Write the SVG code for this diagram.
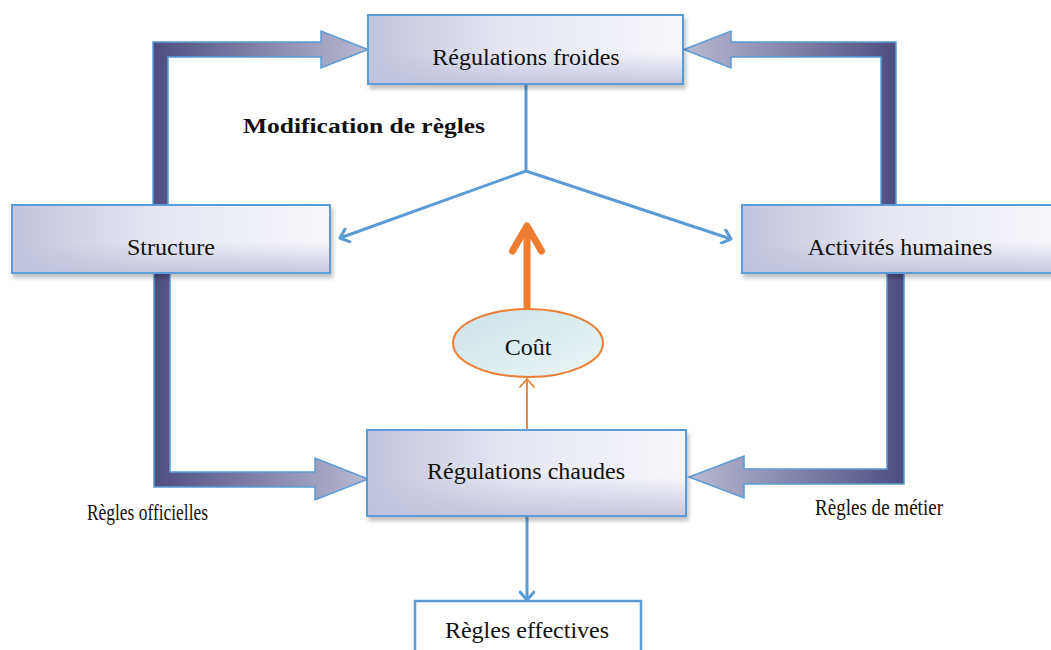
<svg xmlns="http://www.w3.org/2000/svg" width="1051" height="650" viewBox="0 0 1051 650">
<defs>
<style>
.box{stroke:#5b9bd5;stroke-width:2;filter:url(#sh)}
.t{font-size:24px;fill:#111;text-anchor:middle}
.lbl{font-size:23px;fill:#111}
.big{stroke:#5b9bd5;stroke-width:1.5;stroke-linejoin:miter}
.blue{stroke:#5b9bd5;stroke-width:3;fill:none}
.or{stroke:#ed7d31;fill:none}
</style>
<linearGradient id="gb" x1="0" y1="0" x2="1" y2="0">
<stop offset="0" stop-color="#c2c3de"/><stop offset="0.45" stop-color="#e6e7f2"/><stop offset="1" stop-color="#f6f6fa"/>
</linearGradient>
<linearGradient id="gv" x1="0" y1="0" x2="0" y2="1">
<stop offset="0.55" stop-color="#c2c3de" stop-opacity="0"/><stop offset="1" stop-color="#c2c3de" stop-opacity="0.9"/>
</linearGradient>
<linearGradient id="gL" gradientUnits="userSpaceOnUse" x1="153" y1="0" x2="368" y2="0">
<stop offset="0" stop-color="#4d4e80"/><stop offset="1" stop-color="#b9b9d3"/>
</linearGradient>
<linearGradient id="gR" gradientUnits="userSpaceOnUse" x1="896" y1="0" x2="684" y2="0">
<stop offset="0" stop-color="#4d4e80"/><stop offset="1" stop-color="#b9b9d3"/>
</linearGradient>
<linearGradient id="gL2" gradientUnits="userSpaceOnUse" x1="154" y1="0" x2="368" y2="0">
<stop offset="0" stop-color="#4d4e80"/><stop offset="1" stop-color="#b9b9d3"/>
</linearGradient>
<linearGradient id="gR2" gradientUnits="userSpaceOnUse" x1="904" y1="0" x2="689" y2="0">
<stop offset="0" stop-color="#4d4e80"/><stop offset="1" stop-color="#b9b9d3"/>
</linearGradient>
<linearGradient id="ge" x1="0" y1="0" x2="1" y2="1">
<stop offset="0" stop-color="#c9e2e6"/><stop offset="1" stop-color="#eef6f7"/>
</linearGradient>
<filter id="sh" x="-5%" y="-10%" width="115%" height="130%">
<feGaussianBlur in="SourceAlpha" stdDeviation="2"/>
<feOffset dx="2" dy="4" result="b"/>
<feComponentTransfer><feFuncA type="linear" slope="0.25"/></feComponentTransfer>
<feMerge><feMergeNode/><feMergeNode in="SourceGraphic"/></feMerge>
</filter>
<marker id="ab" markerWidth="16" markerHeight="16" refX="10" refY="8" orient="auto" markerUnits="userSpaceOnUse">
<path d="M2,1 L10,8 L2,15" fill="none" stroke="#5b9bd5" stroke-width="3" stroke-linecap="round" stroke-linejoin="round"/>
</marker>
<marker id="ao" markerWidth="16" markerHeight="16" refX="10" refY="8" orient="auto" markerUnits="userSpaceOnUse">
<path d="M2,1 L10,8 L2,15" fill="none" stroke="#ed7d31" stroke-width="1.8" stroke-linecap="round" stroke-linejoin="round"/>
</marker>
<marker id="aO" markerWidth="36" markerHeight="38" refX="30" refY="19" orient="auto" markerUnits="userSpaceOnUse">
<path d="M5,4.5 L30,19 L5,33.5" fill="none" stroke="#ed7d31" stroke-width="7" stroke-linecap="round" stroke-linejoin="round"/>
</marker>
</defs>
<rect width="1051" height="650" fill="#fff"/>

<g id="connectors">
<path class="big" fill="url(#gL)" d="M153,205 L153,42 L321,42 L321,31 L368,49.5 L321,68 L321,57 L168,57 L168,205 Z"/>
<path class="big" fill="url(#gR)" d="M896,205 L896,42 L731,42 L731,31 L684,49.5 L731,68 L731,57 L881,57 L881,205 Z"/>
<path class="big" fill="url(#gL2)" d="M154,273 L154,487 L315,487 L315,500 L368,479 L315,458 L315,472 L170,472 L170,273 Z"/>
<path class="big" fill="url(#gR2)" d="M904,273 L904,484 L744,484 L744,498 L689,477 L744,456 L744,469 L887,469 L887,273 Z"/>
<path class="blue" d="M526,84 L526,171"/>
<path class="blue" d="M526,171 L340,238" marker-end="url(#ab)"/>
<path class="blue" d="M526,171 L731,239" marker-end="url(#ab)"/>
<path class="blue" d="M527,516 L527,600" marker-end="url(#ab)"/>
<path class="or" stroke-width="1.8" d="M527,430 L527,379" marker-end="url(#ao)"/>
<path class="or" stroke-width="7" d="M527,309 L527,226" marker-end="url(#aO)"/>
</g>

<g font-family="Liberation Serif, serif">
<g id="n-froides">
<rect class="box" x="368" y="15" width="315" height="69" fill="url(#gb)"/>
<rect x="369" y="16" width="313" height="67" fill="url(#gv)"/>
<text class="t" x="526" y="65" font-family="Liberation Serif, serif">Régulations froides</text>
</g>
<g id="n-structure">
<rect class="box" x="12" y="205" width="318" height="68" fill="url(#gb)"/>
<rect x="13" y="206" width="316" height="66" fill="url(#gv)"/>
<text class="t" x="171" y="255" font-family="Liberation Serif, serif">Structure</text>
</g>
<g id="n-activites">
<rect class="box" x="742" y="205" width="318" height="68" fill="url(#gb)"/>
<rect x="743" y="206" width="316" height="66" fill="url(#gv)"/>
<text class="t" x="900" y="255" font-family="Liberation Serif, serif">Activités humaines</text>
</g>
<g id="n-cout">
<ellipse cx="528" cy="343" rx="75" ry="34" fill="url(#ge)" stroke="#ed7d31" stroke-width="2"/>
<text class="t" x="528" y="355" font-family="Liberation Serif, serif">Coût</text>
</g>
<g id="n-chaudes">
<rect class="box" x="367" y="430" width="319" height="86" fill="url(#gb)"/>
<rect x="368" y="431" width="317" height="84" fill="url(#gv)"/>
<text class="t" x="526" y="479" font-family="Liberation Serif, serif">Régulations chaudes</text>
</g>
<g id="n-effectives">
<rect x="415" y="601" width="226" height="60" fill="#fff" stroke="#5b9bd5" stroke-width="2.5"/>
<text class="t" x="527" y="638" font-family="Liberation Serif, serif">Règles effectives</text>
</g>

<g id="labels">
<text x="243" y="133" font-family="Liberation Serif, serif" font-weight="bold" font-size="22" fill="#111" textLength="242" lengthAdjust="spacingAndGlyphs">Modification de règles</text>
<text class="lbl" x="87" y="520" font-family="Liberation Serif, serif" textLength="121" lengthAdjust="spacingAndGlyphs">Règles officielles</text>
<text class="lbl" x="815" y="515" font-family="Liberation Serif, serif" textLength="128" lengthAdjust="spacingAndGlyphs">Règles de métier</text>
</g>
</g>
</svg>
